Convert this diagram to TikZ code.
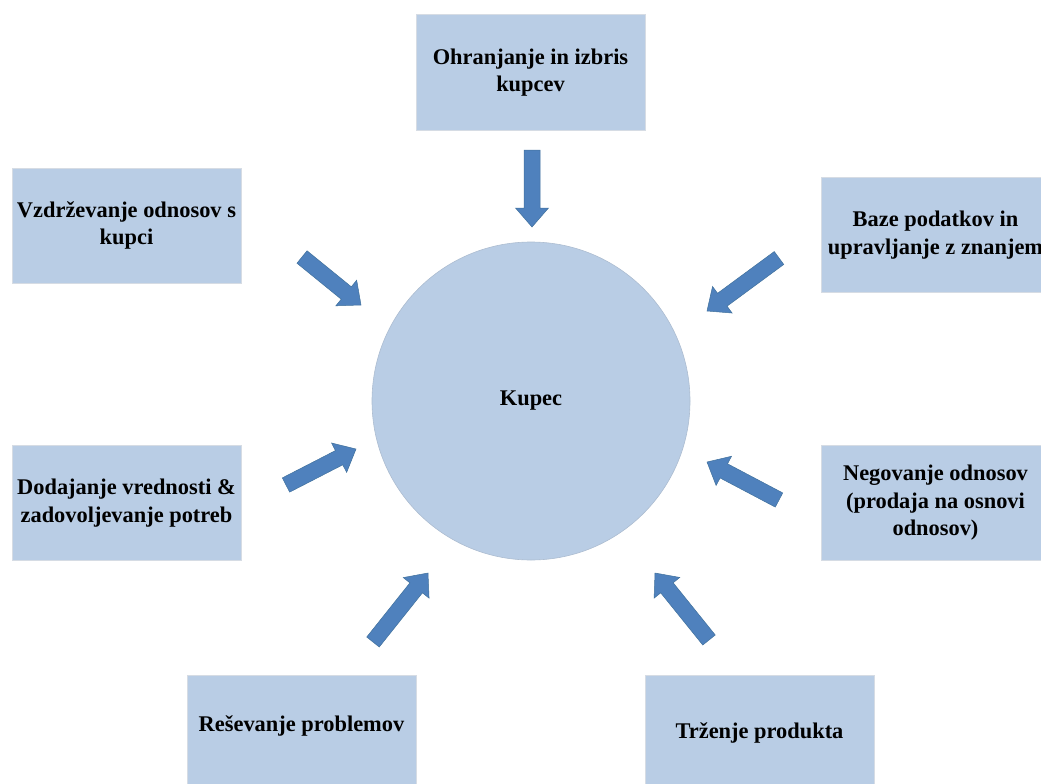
\documentclass[tikz,border=0pt]{standalone}
\usepackage{fontspec}
\setmainfont{Liberation Serif}
\usetikzlibrary{calc}
\definecolor{boxblue}{HTML}{B9CDE5}
\definecolor{arrowblue}{HTML}{4F81BD}
\definecolor{arrowedge}{HTML}{41719C}
\definecolor{boxedge}{HTML}{D6DCE4}
\newcommand\blockarrow[2]{%
  \coordinate (#1-n) at ($(#2)!19pt!(#1)$);
  \filldraw[arrowshape]
    ($(#1)!8pt!90:(#2)$) -- ($(#1-n)!8pt!-90:(#1)$) -- ($(#1-n)!16.5pt!-90:(#1)$) -- (#2)
    -- ($(#1-n)!16.5pt!90:(#1)$) -- ($(#1-n)!8pt!90:(#1)$) -- ($(#1)!8pt!-90:(#2)$) -- cycle;
}
\begin{document}
\begin{tikzpicture}[x=1pt,y=-1pt,
  txt/.style={font=\fontsize{22.4}{27.5}\selectfont\bfseries, align=center, text=black},
  boxnode/.style={txt, rectangle, fill=boxblue, draw=boxedge, line width=1pt,
    minimum width=229, minimum height=115, inner sep=0pt},
  hubnode/.style={txt, circle, fill=boxblue, draw=boxblue!80!gray, line width=0.6pt,
    minimum size=318, inner sep=0pt},
  arrowshape/.style={fill=arrowblue, draw=arrowedge, line width=0.5pt, line join=miter}]
\useasboundingbox (0,0) rectangle (1041,784);
\clip (0,0) rectangle (1041,784);

\node[hubnode] (hub) at (531,401) {Kupec};

\node[boxnode] (top) at (530.5,72.5) {Ohranjanje in izbris\\kupcev};
\node[boxnode] (ul) at (126.5,225.5) {Vzdrževanje odnosov s\\kupci};
\node[boxnode] (ur) at (935.5,235) {Baze podatkov in\\upravljanje z znanjem};
\node[boxnode] (ml) at (126.5,503) {Dodajanje vrednosti \&\\zadovoljevanje potreb};
\node[boxnode] (mr) at (935.5,503) {Negovanje odnosov\\(prodaja na osnovi\\odnosov)};
\node[boxnode, text depth=17pt] (bl) at (301.5,732.5) {Reševanje problemov};
\node[boxnode] (br) at (759.5,733) {Trženje produkta};

\coordinate (a1t) at (532,150);  \coordinate (a1h) at (532,227);
\coordinate (a2t) at (302,257);  \coordinate (a2h) at (361,305);
\coordinate (a3t) at (779,258);  \coordinate (a3h) at (707,311);
\coordinate (a4t) at (286,485);  \coordinate (a4h) at (356,449);
\coordinate (a5t) at (779,500);  \coordinate (a5h) at (707,462);
\coordinate (a6t) at (373,642);  \coordinate (a6h) at (428,573);
\coordinate (a7t) at (709,640);  \coordinate (a7h) at (655,573);

\blockarrow{a1t}{a1h}
\blockarrow{a2t}{a2h}
\blockarrow{a3t}{a3h}
\blockarrow{a4t}{a4h}
\blockarrow{a5t}{a5h}
\blockarrow{a6t}{a6h}
\blockarrow{a7t}{a7h}
\end{tikzpicture}
\end{document}
